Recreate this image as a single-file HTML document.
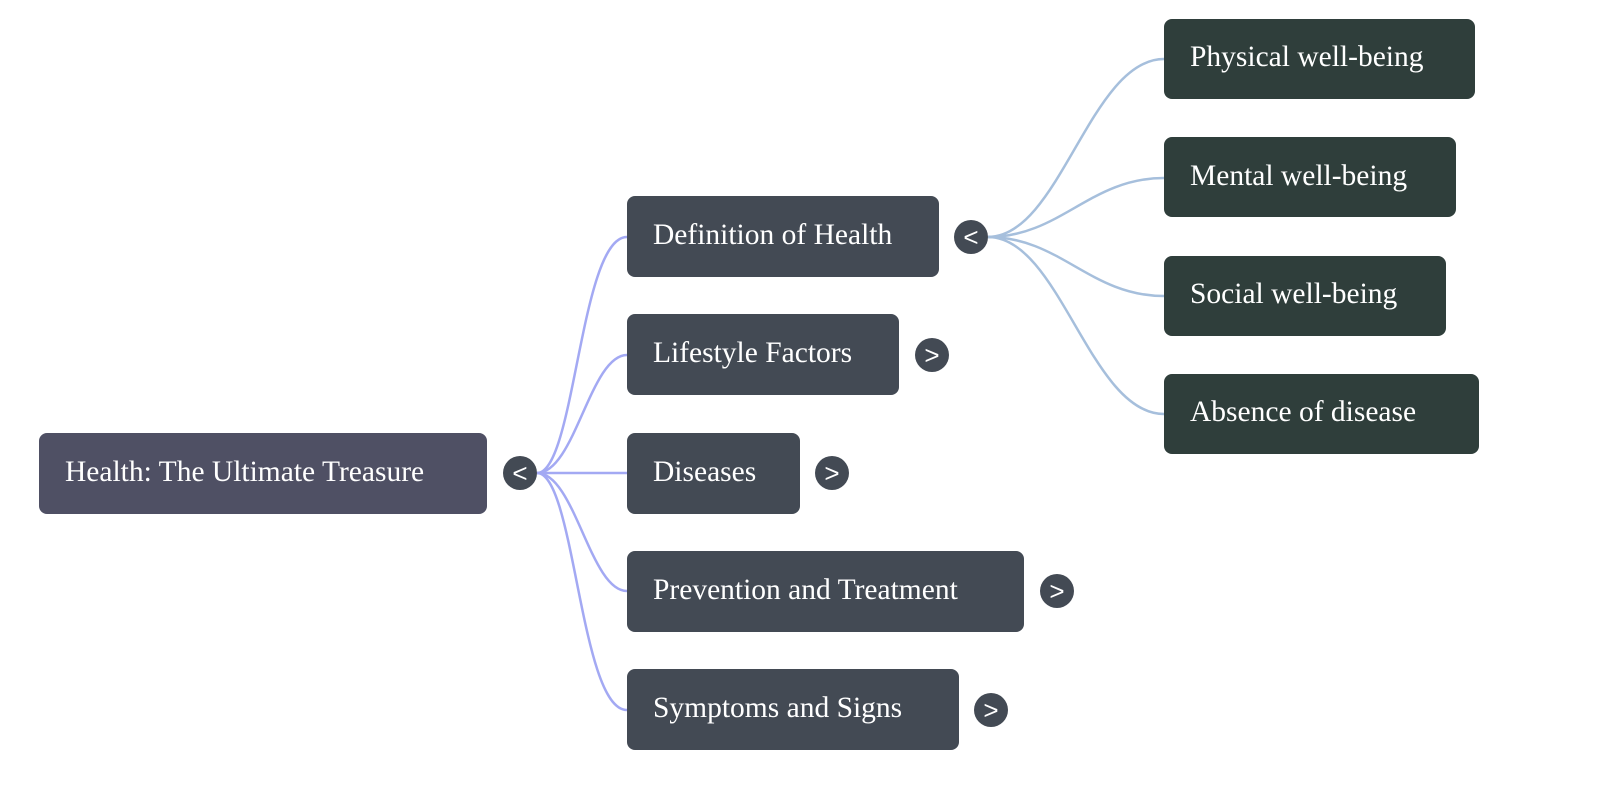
<!DOCTYPE html>
<html><head><meta charset="utf-8"><style>
html,body{margin:0;padding:0;background:#fff;}
svg{display:block}
text{font-family:"Liberation Serif",serif;font-size:29.5px;fill:#fff}
.t{font-family:"Liberation Sans",sans-serif;font-size:26px;fill:#fff}
</style></head><body>
<svg width="1600" height="786" viewBox="0 0 1600 786">
<g fill="none" stroke="#a3a9f3" stroke-width="2.5">
<path d="M537 473 C575 473,580 237,627 237"/>
<path d="M537 473 C575 473,590 355,627 355"/>
<path d="M537 473 L627 473"/>
<path d="M537 473 C575 473,590 591,627 591"/>
<path d="M537 473 C575 473,580 710,627 710"/>
</g>
<g fill="none" stroke="#a6bfdc" stroke-width="2.5">
<path d="M988 237 C1060 237,1090 59,1164 59"/>
<path d="M988 237 C1060 237,1090 178,1164 178"/>
<path d="M988 237 C1060 237,1090 296,1164 296"/>
<path d="M988 237 C1060 237,1090 414,1164 414"/>
</g>
<rect x="39" y="433" width="448" height="81" rx="8" fill="#4f5064"/>
<text x="65" y="481">Health: The Ultimate Treasure</text>
<g fill="#434a54">
<rect x="627" y="196" width="312" height="81" rx="8"/>
<rect x="627" y="314" width="272" height="81" rx="8"/>
<rect x="627" y="433" width="173" height="81" rx="8"/>
<rect x="627" y="551" width="397" height="81" rx="8"/>
<rect x="627" y="669" width="332" height="81" rx="8"/>
<circle cx="520" cy="473" r="17"/>
<circle cx="971" cy="237" r="17"/>
<circle cx="932" cy="355" r="17"/>
<circle cx="832" cy="473" r="17"/>
<circle cx="1057" cy="591" r="17"/>
<circle cx="991" cy="710" r="17"/>
</g>
<text x="653" y="244">Definition of Health</text>
<text x="653" y="362">Lifestyle Factors</text>
<text x="653" y="481">Diseases</text>
<text x="653" y="599">Prevention and Treatment</text>
<text x="653" y="717">Symptoms and Signs</text>
<g text-anchor="middle">
<text class="t" x="520" y="482">&lt;</text>
<text class="t" x="971" y="246">&lt;</text>
<text class="t" x="932" y="364">&gt;</text>
<text class="t" x="832" y="482">&gt;</text>
<text class="t" x="1057" y="600">&gt;</text>
<text class="t" x="991" y="719">&gt;</text>
</g>
<g fill="#2f3e3b">
<rect x="1164" y="19" width="311" height="80" rx="8"/>
<rect x="1164" y="137" width="292" height="80" rx="8"/>
<rect x="1164" y="256" width="282" height="80" rx="8"/>
<rect x="1164" y="374" width="315" height="80" rx="8"/>
</g>
<text x="1190" y="66">Physical well-being</text>
<text x="1190" y="185">Mental well-being</text>
<text x="1190" y="303">Social well-being</text>
<text x="1190" y="421">Absence of disease</text>
</svg>
</body></html>
